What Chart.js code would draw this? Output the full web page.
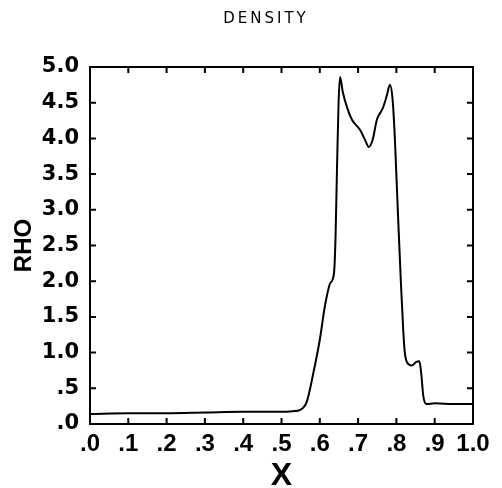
<!DOCTYPE html>
<html>
<head>
<meta charset="utf-8">
<script src="https://cdn.jsdelivr.net/npm/chart.js@4.4.0/dist/chart.umd.min.js"></script>
<style>
  html, body { margin: 0; padding: 0; background: #fff; }
</style>
</head>
<body>
<canvas id="densityChart" width="502" height="488"></canvas>
<script>
// Density profile
const xValues = [0, 0.1, 0.2, 0.3, 0.4, 0.5, 0.53, 0.545, 0.555, 0.566, 0.583,
  0.6, 0.613, 0.627, 0.637, 0.641, 0.645, 0.649, 0.653, 0.66, 0.672,
  0.684, 0.705, 0.718, 0.728, 0.738, 0.749, 0.765, 0.775, 0.783, 0.79,
  0.796, 0.804, 0.812, 0.818, 0.822, 0.828, 0.84, 0.852, 0.86, 0.865,
  0.87, 0.878, 0.9, 0.95, 1.0];
const rhoValues = [0.14, 0.15, 0.15, 0.16, 0.17, 0.17, 0.18, 0.19, 0.22, 0.31, 0.71,
  1.18, 1.64, 1.97, 2.11, 2.6, 3.6, 4.5, 4.86, 4.65, 4.42,
  4.26, 4.12, 3.98, 3.88, 3.98, 4.26, 4.43, 4.6, 4.75, 4.55,
  4.0, 2.95, 1.95, 1.3, 1.0, 0.86, 0.82, 0.87, 0.88, 0.7,
  0.4, 0.28, 0.29, 0.28, 0.28];

const xTicks = [0, 0.1, 0.2, 0.3, 0.4, 0.5, 0.6, 0.7, 0.8, 0.9, 1.0];
const yTicks = [0, 0.5, 1.0, 1.5, 2.0, 2.5, 3.0, 3.5, 4.0, 4.5, 5.0];

const chartTitle = 'DENSITY';
const xTitle = 'X';
const yTitle = 'RHO';

// old-style labels: ".5" instead of "0.5"
function fmt(v) {
  const s = v.toFixed(1);
  return s.startsWith('0') ? s.slice(1) : s;
}

// box around the plot, inward ticks on every side, and the small title
const frameAndTicks = {
  id: 'frameAndTicks',
  afterDatasetsDraw(chart) {
    const { ctx, chartArea: a, scales: { x, y } } = chart;
    const len = 6;
    ctx.save();
    ctx.strokeStyle = '#000';
    ctx.lineWidth = 2;
    ctx.strokeRect(a.left, a.top, a.right - a.left, a.bottom - a.top);
    ctx.beginPath();
    xTicks.forEach((v) => {
      const px = x.getPixelForValue(v);
      ctx.moveTo(px, a.bottom); ctx.lineTo(px, a.bottom - len);
      ctx.moveTo(px, a.top); ctx.lineTo(px, a.top + len);
    });
    yTicks.forEach((v) => {
      const py = y.getPixelForValue(v);
      ctx.moveTo(a.left, py); ctx.lineTo(a.left + len, py);
      ctx.moveTo(a.right, py); ctx.lineTo(a.right - len, py);
    });
    ctx.stroke();

    ctx.fillStyle = '#000';
    ctx.font = '15px "DejaVu Sans"';
    ctx.letterSpacing = '3px';
    ctx.textAlign = 'center';
    ctx.textBaseline = 'middle';
    ctx.fillText(chartTitle, 266, 19);
    ctx.restore();
  },
};

const ctx = document.getElementById('densityChart').getContext('2d');

new Chart(ctx, {
  type: 'line',
  data: {
    datasets: [
      {
        label: 'RHO',
        data: xValues.map((xv, i) => ({ x: xv, y: rhoValues[i] })),
        borderColor: '#000',
        borderWidth: 2,
        pointRadius: 0,
        fill: false,
        cubicInterpolationMode: 'monotone',
      },
    ],
  },
  options: {
    responsive: false,
    animation: false,
    devicePixelRatio: 1,
    layout: { padding: { top: 67, right: 29, bottom: 0, left: 0 } },
    plugins: {
      legend: { display: false },
      tooltip: { enabled: false },
    },
    scales: {
      x: {
        type: 'linear',
        min: 0,
        max: 1,
        grid: { display: false, drawTicks: false },
        border: { display: false },
        afterBuildTicks: (s) => { s.ticks = xTicks.map((v) => ({ value: v })); },
        afterFit: (s) => { s.height = 64; },
        ticks: {
          color: '#000',
          padding: 6,
          autoSkip: false,
          maxRotation: 0,
          font: { family: '"Liberation Sans", Arial', size: 24, weight: 'bold' },
          callback: (v) => fmt(v),
        },
        title: {
          display: true,
          text: xTitle,
          color: '#000',
          padding: 0,
          font: { family: '"Liberation Sans", Arial', size: 32, weight: 'bold', lineHeight: 0.75 },
        },
      },
      y: {
        min: 0,
        max: 5,
        grid: { display: false, drawTicks: false },
        border: { display: false },
        afterBuildTicks: (s) => { s.ticks = yTicks.map((v) => ({ value: v })); },
        afterFit: (s) => { s.width = 90; },
        ticks: {
          color: '#000',
          padding: 11,
          autoSkip: false,
          font: { family: '"DejaVu Sans"', size: 21, weight: 'bold' },
          callback: (v) => fmt(v),
        },
        title: {
          display: true,
          text: yTitle,
          color: '#000',
          padding: { top: 10, bottom: 0 },
          font: { family: '"Liberation Sans", Arial', size: 24, weight: 'bold' },
        },
      },
    },
  },
  plugins: [frameAndTicks],
});
</script>
</body>
</html>
